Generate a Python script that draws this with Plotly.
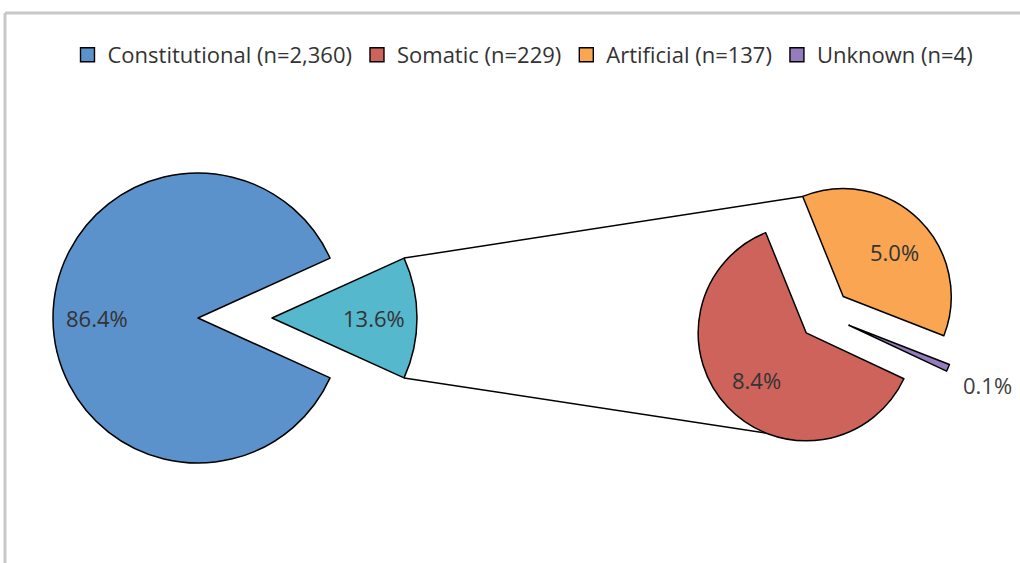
import math
import plotly.graph_objects as go

# ---------------- data ----------------
categories = ["Constitutional", "Somatic", "Artificial", "Unknown"]
counts = [2360, 229, 137, 4]
colors = ["#5B92CB", "#CD635B", "#F9A552", "#957CBD"]
other_label = "Other"
other_color = "#56B8CD"

# ---------------- layout constants (pixels) ----------------
W, H = 1020, 563
MAIN_C = (198, 318)
MAIN_R = 145
OTHER_SHIFT = 74
SEC_C = (825, 315)
SEC_R = 108
SEC_PULL = 0.24
SEC_START = 112  # math-degrees where the first secondary slice starts
IN_F_MAIN = 0.70   # label distance (fraction of radius) for main pie
IN_F_SEC = 0.63    # label distance for secondary inside labels
OUT_F_SEC = 1.40   # label distance for secondary outside label
FONT = "Open Sans"
FS = 22
TXT = "#333333"
CLEAR = "rgba(0,0,0,0)"
LW = 1.5

total = sum(counts)
other = sum(counts[1:])
pct = {c: f"{100 * v / total:.1f}%" for c, v in zip(categories, counts)}
other_pct = f"{100 * other / total:.1f}%"
col = dict(zip(categories, colors))
cnt = dict(zip(categories, counts))


def dom(cx, cy, half):
    return dict(x=[(cx - half) / W, (cx + half) / W],
                y=[1 - (cy + half) / H, 1 - (cy - half) / H])


def px(x, y):
    return x / W, 1 - y / H


def polar(c, r, deg):
    a = math.radians(deg)
    return (c[0] + r * math.cos(a), c[1] - r * math.sin(a))


fig = go.Figure()
annotations = []


def label(pt, text, color=TXT):
    x, y = px(*pt)
    annotations.append(dict(x=x, y=y, xref="paper", yref="paper", text=text,
                            showarrow=False, xanchor="center", yanchor="middle",
                            font=dict(family=FONT, size=FS, color=color)))


# ---- main pie (Constitutional vs Other) ----
half_other = other / total * 180.0
main_rot = 90 + half_other
main_vals = [cnt["Constitutional"], other]
main_labels = ["Constitutional", other_label]
other_c = (MAIN_C[0] + OTHER_SHIFT, MAIN_C[1])

fig.add_trace(go.Pie(
    labels=main_labels, values=main_vals, sort=False, direction="clockwise",
    rotation=main_rot, domain=dom(MAIN_C[0], MAIN_C[1], MAIN_R),
    marker=dict(colors=[col["Constitutional"], CLEAR],
                line=dict(color=["#000000", CLEAR], width=[LW, 0])),
    textinfo="none", showlegend=False, hoverinfo="label+percent"))

fig.add_trace(go.Pie(
    labels=main_labels, values=main_vals, sort=False, direction="clockwise",
    rotation=main_rot, domain=dom(other_c[0], other_c[1], MAIN_R),
    marker=dict(colors=[CLEAR, other_color],
                line=dict(color=[CLEAR, "#000000"], width=[0, LW])),
    textinfo="none", showlegend=False, hoverinfo="label+percent"))

label(polar(MAIN_C, IN_F_MAIN * MAIN_R, 180), pct["Constitutional"])
label(polar(other_c, IN_F_MAIN * MAIN_R, 0), other_pct)

# ---- secondary pie ----
sec_order = ["Artificial", "Unknown", "Somatic"]
sec_vals = [cnt[c] for c in sec_order]
sec_half = SEC_R * (1 + SEC_PULL)
fig.add_trace(go.Pie(
    labels=sec_order, values=sec_vals, sort=False, direction="clockwise",
    rotation=90 - SEC_START, pull=[SEC_PULL] * 3,
    domain=dom(SEC_C[0], SEC_C[1], sec_half),
    marker=dict(colors=[col[c] for c in sec_order],
                line=dict(color="#000000", width=LW)),
    textinfo="none", showlegend=False, hoverinfo="label+percent"))

sec_sum = sum(sec_vals)
d = SEC_PULL * SEC_R
start = SEC_START
centers = {}
for c, v in zip(sec_order, sec_vals):
    span = v / sec_sum * 360
    mid = start - span / 2
    cc = polar(SEC_C, d, mid)
    centers[c] = (cc, mid)
    if c == "Unknown":
        label(polar(cc, OUT_F_SEC * SEC_R, mid), pct[c], "#404040")
    elif c == "Artificial":
        label(polar(cc, IN_F_SEC * SEC_R, mid - 4), pct[c])
    else:
        label(polar(cc, IN_F_SEC * SEC_R, mid), pct[c])
    start -= span

# ---- connector lines computed from pie geometry ----
top_a = polar(other_c, MAIN_R, half_other)
bot_a = polar(other_c, MAIN_R, -half_other)
top_b = polar(centers["Artificial"][0], SEC_R, SEC_START)
bot_b = polar(centers["Somatic"][0], SEC_R, -SEC_START)

shapes = []
for a, b in [(top_a, top_b), (bot_a, bot_b)]:
    x0, y0 = px(*a)
    x1, y1 = px(*b)
    shapes.append(dict(type="line", xref="paper", yref="paper",
                       x0=x0, y0=y0, x1=x1, y1=y1,
                       line=dict(color="#000000", width=LW)))

# chart-area border (top and left visible)
bx0, by0 = px(5, 13)
shapes.append(dict(type="line", xref="paper", yref="paper", x0=bx0, y0=by0,
                   x1=1.01, y1=by0, line=dict(color="#C8C8C8", width=3)))
shapes.append(dict(type="line", xref="paper", yref="paper", x0=bx0, y0=by0,
                   x1=bx0, y1=-0.01, line=dict(color="#C8C8C8", width=3)))

# ---- legend entries ----
for c in categories:
    fig.add_trace(go.Scatter(
        x=[None], y=[None], mode="markers", name=f"{c} (n={cnt[c]:,})",
        marker=dict(symbol="square", size=14, color=col[c],
                    line=dict(color="#000000", width=1.4)),
        hoverinfo="skip"))

fig.update_layout(
    width=W, height=H, margin=dict(l=0, r=0, t=0, b=0),
    paper_bgcolor="white", plot_bgcolor="white",
    font=dict(family=FONT, size=FS, color=TXT),
    xaxis=dict(visible=False), yaxis=dict(visible=False),
    shapes=shapes, annotations=annotations,
    legend=dict(orientation="h", x=523 / W, xanchor="center",
                y=1 - 55 / H, yanchor="middle",
                font=dict(family=FONT, size=FS, color=TXT),
                itemwidth=30, tracegroupgap=0, bgcolor=CLEAR),
)

fig.write_html(
    "out.html",
    config={"displayModeBar": False},
    post_script="document.body.style.margin='0';document.body.style.overflow='hidden';",
)
